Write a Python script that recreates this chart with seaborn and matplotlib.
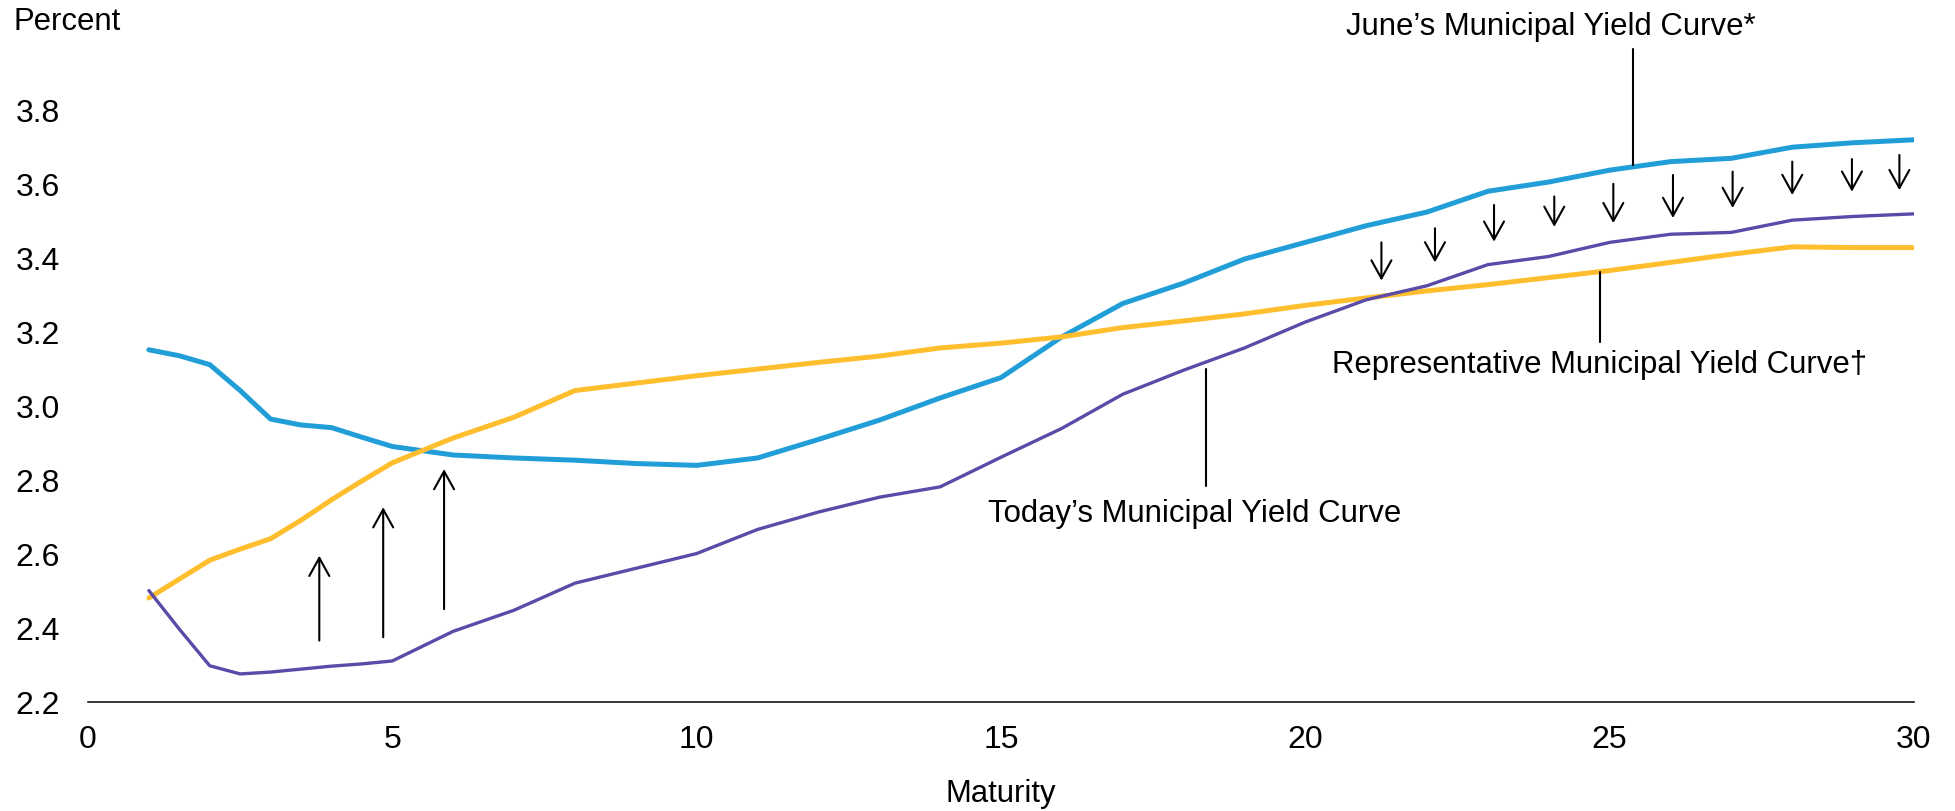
import seaborn as sns
import matplotlib.pyplot as plt
import pandas as pd

# maturity in years, yields in percent (extra half-year readings where the curves bend)
maturity = [1, 1.5, 2, 2.5, 3, 3.5, 4, 4.5, 5, 6, 7, 8, 9, 10,
            11, 12, 13, 14, 15, 16, 17, 18, 19, 20,
            21, 22, 23, 24, 25, 26, 27, 28, 29, 30]
june = [3.15, 3.134, 3.11, 3.04, 2.963, 2.947, 2.94, 2.914, 2.889, 2.866, 2.858, 2.852, 2.843, 2.838,
        2.858, 2.908, 2.96, 3.02, 3.075, 3.185, 3.275, 3.33, 3.395, 3.44,
        3.485, 3.522, 3.578, 3.603, 3.635, 3.658, 3.667, 3.697, 3.709, 3.717]
representative = [2.48, 2.531, 2.582, 2.612, 2.64, 2.69, 2.745, 2.796, 2.845, 2.912, 2.968, 3.04, 3.06, 3.08,
                  3.098, 3.116, 3.133, 3.155, 3.168, 3.185, 3.21, 3.228, 3.247, 3.27,
                  3.29, 3.309, 3.326, 3.345, 3.364, 3.386, 3.408, 3.428, 3.426, 3.426]
today = [2.50, 2.396, 2.297, 2.275, 2.28, 2.288, 2.296, 2.302, 2.31, 2.39, 2.447, 2.52, 2.56, 2.60,
         2.665, 2.712, 2.752, 2.78, 2.86, 2.938, 3.03, 3.095, 3.155, 3.225,
         3.285, 3.323, 3.38, 3.402, 3.44, 3.462, 3.467, 3.50, 3.51, 3.517]

# arrows: x position, tail, head
up_x = [3.8, 4.85, 5.85]
up_from = [2.365, 2.374, 2.45]
up_to = [2.594, 2.725, 2.828]
down_x = [21.25, 22.13, 23.1, 24.09, 25.06, 26.04, 27.02, 28.0, 28.98, 29.76]
down_from = [3.44, 3.478, 3.541, 3.564, 3.598, 3.622, 3.631, 3.658, 3.665, 3.676]
down_to = [3.337, 3.386, 3.442, 3.482, 3.492, 3.506, 3.533, 3.568, 3.577, 3.581]

xticks = [0, 5, 10, 15, 20, 25, 30]
yticks = [2.2, 2.4, 2.6, 2.8, 3.0, 3.2, 3.4, 3.6, 3.8]

sns.set_theme(style="white")
plt.rcParams['font.family'] = ['Liberation Sans', 'DejaVu Sans']
plt.rcParams['text.color'] = 'black'
plt.rcParams['axes.labelcolor'] = 'black'
plt.rcParams['xtick.color'] = 'black'
plt.rcParams['ytick.color'] = 'black'

df = pd.DataFrame({"maturity": maturity, "june": june,
                   "representative": representative, "today": today})

fig = plt.figure(figsize=(19.55, 8.12), dpi=100)
ax = fig.add_axes([88 / 1955, 109.3 / 812, 1826 / 1955, 0.8576])

sns.lineplot(data=df, x="maturity", y="june", color="#219ED8", lw=3.6,
             solid_capstyle="round", solid_joinstyle="round", ax=ax)
sns.lineplot(data=df, x="maturity", y="representative", color="#FFBE2E", lw=3.6,
             solid_capstyle="round", solid_joinstyle="round", ax=ax)
sns.lineplot(data=df, x="maturity", y="today", color="#5B4BA8", lw=2.4,
             solid_capstyle="round", solid_joinstyle="round", ax=ax)

arrow = dict(arrowstyle="->,head_length=0.65,head_width=0.36", lw=1.5,
             color="black", mutation_scale=20, shrinkA=0, shrinkB=0)
for x, a, b in zip(up_x + down_x, up_from + down_from, up_to + down_to):
    ax.annotate("", xy=(x, b), xytext=(x, a), arrowprops=arrow)

# labels with pointer lines
ax.plot([25.39, 25.39], [3.962, 3.649], color="black", lw=1.5, clip_on=False)
ax.text(20.67, 4.002, "June\u2019s Municipal Yield Curve*", fontsize=22.4,
        va="baseline", ha="left")
ax.plot([24.84, 24.84], [3.361, 3.172], color="black", lw=1.5)
ax.text(20.44, 3.089, "Representative Municipal Yield Curve\u2020", fontsize=22.4,
        va="baseline", ha="left")
ax.plot([18.36, 18.36], [3.098, 2.782], color="black", lw=1.5)
ax.text(14.79, 2.689, "Today\u2019s Municipal Yield Curve", fontsize=22.4,
        va="baseline", ha="left")

ax.set_xlim(0, 30)
ax.set_ylim(2.2, 4.08)
ax.set_xticks(xticks)
ax.set_yticks(yticks)
ax.set_yticklabels([f"{v:.1f}" for v in yticks])
ax.tick_params(axis="x", length=0, pad=16, labelsize=23)
ax.tick_params(axis="y", length=0, pad=20, labelsize=23)
ax.set_xlabel("Maturity", fontsize=22.4, labelpad=17)
ax.set_ylabel("")
for s in ["left", "top", "right"]:
    ax.spines[s].set_visible(False)
ax.spines["bottom"].set_color("black")
ax.spines["bottom"].set_linewidth(1.1)

fig.text(13 / 1955, 1 - 22 / 812, "Percent", fontsize=22.4, va="center", ha="left")

fig.savefig("out.png", dpi=100)
